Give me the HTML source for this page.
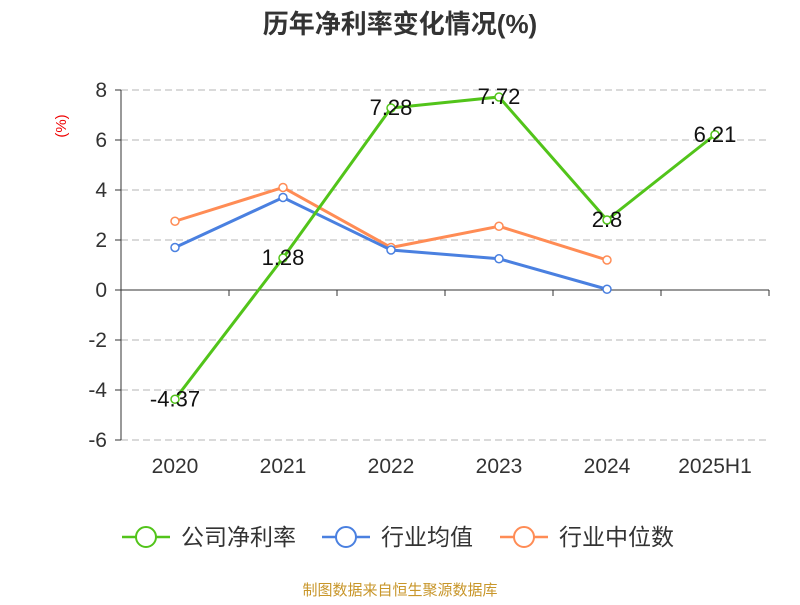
<!DOCTYPE html>
<html><head><meta charset="utf-8"><style>
body{margin:0;background:#fff}
text{font-family:"Liberation Sans","Noto Sans CJK SC",sans-serif}
</style></head><body>
<svg id="c" width="800" height="600">
<text x="400" y="33" text-anchor="middle" font-size="26" font-weight="bold" fill="#333">历年净利率变化情况(%)</text>
<text transform="translate(66,126) rotate(-90)" text-anchor="middle" font-size="15" fill="#e00">(%)</text>
<g id="grid"></g><g id="axes"></g><g id="series"></g>
<g>
<g><line x1="122" y1="537" x2="170" y2="537" stroke="#52c41a" stroke-width="2.5"/><circle cx="146" cy="537" r="10" fill="#fff" stroke="#52c41a" stroke-width="2"/><text x="181" y="545" font-size="23" fill="#333">公司净利率</text></g>
<g><line x1="322" y1="537" x2="370" y2="537" stroke="#4a80e0" stroke-width="2.5"/><circle cx="346" cy="537" r="10" fill="#fff" stroke="#4a80e0" stroke-width="2"/><text x="381" y="545" font-size="23" fill="#333">行业均值</text></g>
<g><line x1="500" y1="537" x2="548" y2="537" stroke="#ff8c55" stroke-width="2.5"/><circle cx="524" cy="537" r="10" fill="#fff" stroke="#ff8c55" stroke-width="2"/><text x="559" y="545" font-size="23" fill="#333">行业中位数</text></g>
</g>
<text x="400" y="595" text-anchor="middle" font-size="15" fill="#c8962a">制图数据来自恒生聚源数据库</text>
</svg>
<script>
const categories=["2020","2021","2022","2023","2024","2025H1"];
const company=[-4.37,1.28,7.28,7.72,2.8,6.21];
const industryAvg=[1.7,3.7,1.6,1.25,0.03];
const industryMedian=[2.75,4.1,1.7,2.55,1.2];
const yTicks=[8,6,4,2,0,-2,-4,-6];
const NS="http://www.w3.org/2000/svg";
const L=121,R=769,bw=(R-L)/categories.length;
const x=i=>L+bw*(i+0.5);
const y=v=>290-v*25;
function mk(p,t,a){const e=document.createElementNS(NS,t);for(const k in a)e.setAttribute(k,a[k]);p.appendChild(e);return e;}
const grid=document.getElementById('grid'),axes=document.getElementById('axes'),ser=document.getElementById('series');
yTicks.forEach(v=>{
 if(v!==0){const g=mk(grid,'line',{x1:L,x2:R,y1:y(v),y2:y(v),stroke:'#c4c4c4','stroke-width':1.3,'stroke-dasharray':'7,4'});
 }
 const t=mk(axes,'line',{x1:L-6,x2:L,y1:y(v),y2:y(v),stroke:'#333'});
 
 const l=mk(axes,'text',{x:L-14,y:y(v)+7,'text-anchor':'end','font-size':21,fill:'#333'});l.textContent=v;
 
});
const ya=mk(axes,'line',{x1:L,x2:L,y1:y(8),y2:y(-6),stroke:'#333'});

const xa=mk(axes,'line',{x1:L,x2:R,y1:y(0),y2:y(0),stroke:'#333'});

for(let i=0;i<=categories.length;i++){const t=mk(axes,'line',{x1:L+bw*i,x2:L+bw*i,y1:y(0),y2:y(0)+6,stroke:'#333'});
 }
categories.forEach((c,i)=>{const t=mk(axes,'text',{x:x(i),y:473,'text-anchor':'middle','font-size':21,fill:'#333'});t.textContent=c;
 });
function series(d,col,name,labels){
 const p=mk(ser,'polyline',{points:d.map((v,i)=>x(i)+','+y(v)).join(' '),fill:'none',stroke:col,'stroke-width':3});
 
 d.forEach((v,i)=>{const c=mk(ser,'circle',{cx:x(i),cy:y(v),r:4,fill:'#fff',stroke:col,'stroke-width':1.5});
  
  if(labels){const t=mk(ser,'text',{x:x(i),y:y(v)+7,'text-anchor':'middle','font-size':22,fill:'#111'});t.textContent=v;
   }});
}
series(industryMedian,'#ff8c55','industry-median',false);
series(industryAvg,'#4a80e0','industry-avg',false);
series(company,'#52c41a','company',true);
</script>
</body></html>
